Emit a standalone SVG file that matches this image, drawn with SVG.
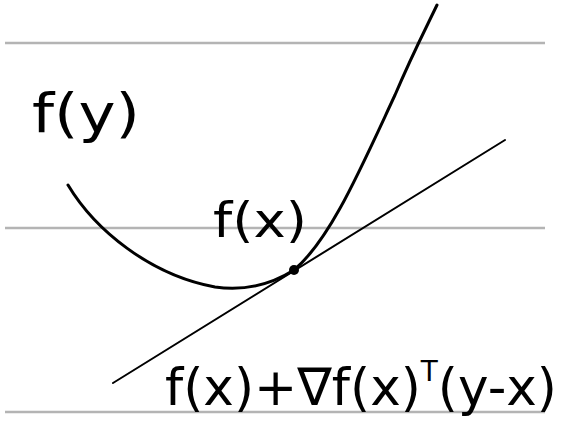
<svg xmlns="http://www.w3.org/2000/svg" width="563" height="443" viewBox="0 0 563 443">
<style>
.rule{stroke:#b4b4b4;stroke-width:2.5;fill:none}
.ink{stroke:#000;fill:none;stroke-linecap:round;stroke-linejoin:round}
.hand{font-family:"DejaVu Sans","Liberation Sans",sans-serif;fill:#000}
</style>
<rect width="563" height="443" fill="#fff"/>
<g id="rules">
<line class="rule" x1="5" y1="43" x2="545" y2="43"/>
<line class="rule" x1="5" y1="228" x2="545" y2="228"/>
<line class="rule" x1="5" y1="412" x2="545" y2="412"/>
</g>
<g id="function-curve">
<path class="ink" stroke-width="3" d="M68,185 C95,230 150,275 215,287 C250,292 275,282 294,270 C330,240 360,170 395,95 C412,55 425,30 437,5"/>
</g>
<g id="tangent-line">
<line class="ink" stroke-width="2" x1="113" y1="383" x2="505" y2="140"/>
</g>
<g id="point-x">
<circle cx="294" cy="270" r="5" fill="#000"/>
</g>
<g id="label-fy">
<text class="hand" x="32" y="132" font-size="54" textLength="108" lengthAdjust="spacingAndGlyphs">f(y)</text>
</g>
<g id="label-fx">
<text class="hand" x="213" y="237" font-size="48" textLength="94" lengthAdjust="spacingAndGlyphs">f(x)</text>
</g>
<g id="label-tangent">
<text class="hand" x="165" y="405" font-size="52" textLength="392" lengthAdjust="spacingAndGlyphs">f(x)+∇f(x)<tspan font-size="28" dy="-24">T</tspan><tspan dy="24">(y-x)</tspan></text>
</g>
</svg>
